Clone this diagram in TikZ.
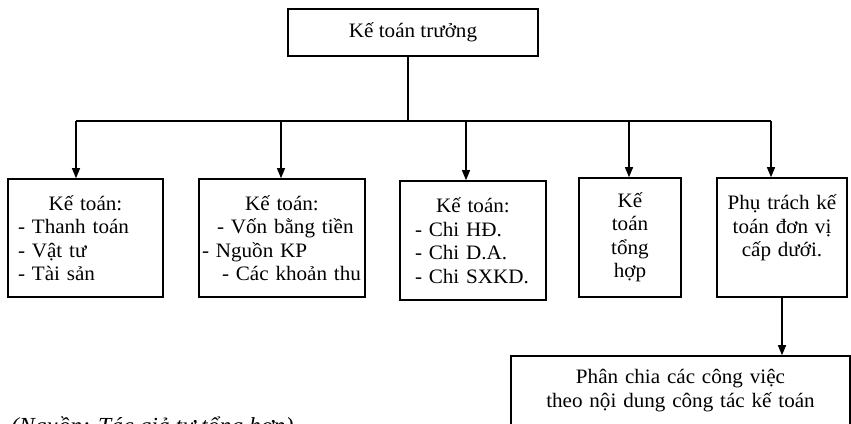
\documentclass[tikz,border=0pt]{standalone}
\usepackage{fontspec}
\setmainfont{Liberation Serif}[FakeStretch=1.03]
\usetikzlibrary{arrows.meta}

\begin{document}
\begin{tikzpicture}[x=1pt,y=-1pt,
	khung/.style={draw, line width=1.6pt, inner sep=0pt, font=\fontsize{20.5}{23.5}\selectfont},
	muiten/.style={-{Triangle[length=10pt,width=8pt]}, line width=1.3pt}]
	\useasboundingbox (0,0) rectangle (851,423);
	\clip (0,0) rectangle (851,423);

	\node[khung, minimum width=250pt, minimum height=47pt] (ktt) at (413,32.5) {Kế toán trưởng};

	\node[khung, minimum width=155pt, minimum height=118pt, text width=135pt, align=left] (kt1) at (85.5,238)
		{\makebox[\linewidth]{Kế toán:}\\- Thanh toán\\- Vật tư\\- Tài sản};
	\node[khung, minimum width=166pt, minimum height=118pt, text width=164pt, align=left] (kt2) at (282,238)
		{\makebox[\linewidth]{Kế toán:}\\\hspace*{17pt}- Vốn bằng tiền\\\hspace*{2pt}- Nguồn KP\\\hspace*{22pt}- Các khoản thu};
	\node[khung, minimum width=146pt, minimum height=119pt, text width=116pt, align=left] (kt3) at (473,240.5)
		{\makebox[\linewidth]{Kế toán:}\\- Chi HĐ.\\- Chi D.A.\\- Chi SXKD.};
	\node[khung, minimum width=102pt, minimum height=119pt, text width=90pt, align=center] (kt4) at (630,237.5)
		{Kế\\toán\\tổng\\hợp};
	\node[khung, minimum width=130pt, minimum height=119pt, text width=124pt, align=center] (kt5) at (782,237.5)
		{Phụ trách kế\\toán đơn vị\\cấp dưới.\\\mbox{}};

	\node[khung, minimum width=339pt, minimum height=88pt, text width=330pt, align=center] (pc) at (680.5,400)
		{Phân chia các công việc\\theo nội dung công tác kế toán\\\mbox{}};

	% bus
	\coordinate (tr) at (408,121);
	\coordinate (n1) at (76,121);
	\coordinate (n2) at (281,121);
	\coordinate (n3) at (466,121);
	\coordinate (n4) at (629,121);
	\coordinate (n5) at (771,121);
	\draw[line width=1.3pt] (ktt.south -| tr) -- (tr);
	\draw[line width=1.3pt] (n1) -- (n5);
	\draw[muiten] (n1) -- (n1 |- kt1.north);
	\draw[muiten] (n2) -- (n2 |- kt2.north);
	\draw[muiten] (n3) -- (n3 |- kt3.north);
	\draw[muiten] (n4) -- (n4 |- kt4.north);
	\draw[muiten] (n5) -- (n5 |- kt5.north);
	\draw[muiten] (kt5.south) -- (kt5.south |- pc.north);

	\node[font=\fontsize{23}{26}\selectfont\itshape, anchor=base west, inner sep=0pt] (nguon) at (11,433)
		{(Nguồn: Tác giả tự tổng hợp)};
\end{tikzpicture}
\end{document}
